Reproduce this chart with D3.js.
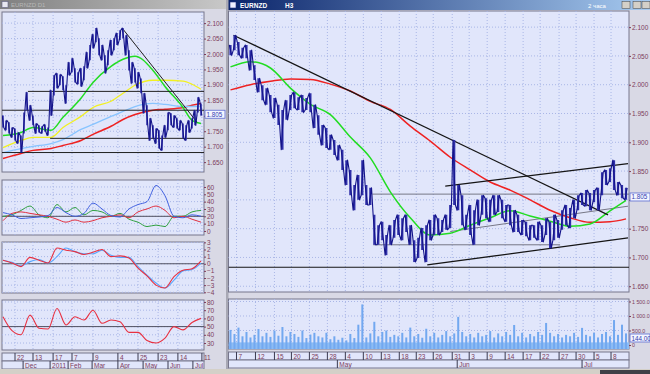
<!DOCTYPE html>
<html>
<head>
<meta charset="utf-8">
<script src="https://cdn.jsdelivr.net/npm/d3@7"></script>
<style>
  body { margin: 0; background: #d4d0c8; }
  svg { display: block; font-family: "Liberation Sans", Arial, sans-serif; }
</style>
</head>
<body>
<svg id="chart" width="650" height="374"></svg>
<script>
// ---- left window (daily), one entry per bar column ----
const lHigh = [1.801,1.785,1.779,1.762,1.759,1.746,1.736,1.811,1.876,1.834,
  1.801,1.775,1.769,1.766,1.772,1.762,1.883,1.931,1.938,1.934,
  1.928,1.899,1.973,1.986,1.954,1.941,1.954,1.960,2.006,2.029,
  2.064,2.084,2.051,2.029,1.996,2.012,2.045,2.051,2.068,2.077,
  2.084,2.061,2.012,1.973,1.954,1.941,1.921,1.873,1.834,1.792,
  1.769,1.759,1.753,1.736,1.769,1.811,1.808,1.801,1.792,1.785,
  1.775,1.769,1.785,1.792,1.818,1.860,1.840];
const lLow = [1.762,1.753,1.743,1.730,1.720,1.710,1.681,1.743,1.818,1.785,
  1.769,1.743,1.746,1.743,1.749,1.736,1.801,1.866,1.889,1.899,
  1.883,1.840,1.931,1.941,1.908,1.902,1.895,1.915,1.954,1.980,
  2.019,2.038,1.996,1.980,1.938,1.964,1.996,2.012,2.029,2.045,
  2.051,1.996,1.947,1.905,1.908,1.889,1.873,1.808,1.769,1.720,
  1.727,1.710,1.694,1.688,1.730,1.753,1.769,1.762,1.759,1.753,
  1.727,1.720,1.746,1.759,1.769,1.811,1.801];

// moving averages, read at these bar columns
const lMaAt = [0,6,10,16,20,26,30,36,40,44,50,54,60,63,66];
const lMaGreen = [1.736,1.746,1.762,1.753,1.795,1.857,1.908,1.960,1.983,1.993,1.947,1.895,1.827,1.785,1.775];
const lMaYellow = [1.697,1.720,1.730,1.730,1.762,1.798,1.827,1.847,1.873,1.899,1.915,1.915,1.912,1.902,1.886];
const lMaBlue = [1.681,1.694,1.701,1.710,1.723,1.756,1.772,1.798,1.814,1.830,1.840,1.837,1.830,1.830,1.830];
const lMaRed = [1.662,1.678,1.688,1.694,1.704,1.720,1.740,1.766,1.788,1.804,1.818,1.821,1.827,1.834,1.840];

// lines drawn on the left chart: [fromBar, fromPrice, toBar, toPrice]
const lLines = [[39.7,2.084,64.7,1.779],[8.3,1.879,67,1.879],[-0.4,1.818,67,1.818],
  [15.7,1.727,67,1.727],[-0.4,1.681,67,1.681]];

// indicators, read every 3rd bar column
const indAt = d3.range(0, 67, 3);
const adxBlue = [25,22,17,18,19,21,32,25,20,24,38,30,21,19,30,36,40,62,48,20,18,22,20];
const adxRed = [14,24,26,24,22,20,16,12,15,12,14,18,20,22,18,26,30,34,28,18,20,16,12];
const adxGreen = [20,22,28,34,22,18,36,26,32,22,28,26,20,24,16,12,6,8,6,20,20,26,28];
const macdRed = [0.5,0.1,-0.4,0.9,0.5,0.1,2.2,1.9,1.7,1.3,1.6,2.0,1.0,1.1,0.8,-0.6,-1.7,-3.0,-3.4,-1.8,-0.9,-0.7,0.4];
const macdBlue = [0.5,0.2,-0.3,0.3,0.6,0.1,1.0,2.2,1.7,1.4,1.4,1.9,1.2,0.9,0.9,-0.4,-1.6,-2.7,-3.4,-2.3,-1.0,-0.8,0.1];
const rsiRed = [62,45,40,64,48,47,72,52,62,58,70,54,58,56,43,43,33,30,36,50,46,55,60];

const lDays = ['22','13','17','7','9','4','25','23','14','11'];
const lDayAt = [4,10,16.7,23,30,38.3,45,51.7,58.3,66.3];
const lMonths = ['Dec','2011','Feb','Mar','Apr','May','Jun','Jul'];
const lMonthAt = [6.7,15.7,21.7,29.7,38.3,46.7,55,63.3];

// ---- right window (intraday) ----
const rHigh = [2.069,2.086,2.074,2.064,2.069,2.060,2.034,2.011,1.999,1.994,
  1.982,1.977,1.965,1.956,1.973,1.982,1.987,1.978,1.982,1.977,
  1.985,1.965,1.947,1.930,1.925,1.913,1.904,1.895,1.887,1.869,
  1.852,1.826,1.843,1.869,1.826,1.821,1.774,1.756,1.762,1.739,
  1.756,1.765,1.774,1.768,1.774,1.756,1.730,1.734,1.751,1.756,
  1.765,1.774,1.768,1.765,1.774,1.791,1.904,1.826,1.808,1.774,
  1.791,1.782,1.800,1.808,1.803,1.800,1.808,1.808,1.800,1.791,
  1.791,1.782,1.774,1.765,1.762,1.756,1.756,1.762,1.756,1.768,
  1.762,1.774,1.765,1.782,1.791,1.786,1.800,1.808,1.812,1.817,
  1.812,1.817,1.821,1.848,1.852,1.855,1.869,1.831,1.826,1.821];
const rLow = [2.051,2.060,2.051,2.046,2.046,2.025,2.008,1.987,1.973,1.965,
  1.952,1.942,1.930,1.887,1.939,1.956,1.959,1.956,1.952,1.956,
  1.952,1.925,1.913,1.895,1.890,1.887,1.878,1.869,1.852,1.826,
  1.808,1.782,1.800,1.808,1.791,1.791,1.722,1.722,1.730,1.704,
  1.722,1.734,1.739,1.730,1.744,1.722,1.692,1.699,1.713,1.692,
  1.730,1.739,1.739,1.744,1.748,1.751,1.791,1.782,1.756,1.748,
  1.739,1.722,1.756,1.774,1.768,1.762,1.774,1.779,1.768,1.762,
  1.756,1.744,1.744,1.739,1.737,1.730,1.734,1.730,1.727,1.739,
  1.716,1.730,1.734,1.748,1.756,1.751,1.768,1.782,1.791,1.789,
  1.782,1.796,1.782,1.808,1.826,1.831,1.817,1.808,1.803,1.800];
const rVolume = [520,380,600,300,450,260,350,550,300,420,
  280,500,320,620,300,450,380,280,500,240,
  360,420,300,260,420,200,300,180,250,160,
  380,240,700,1400,260,400,800,300,450,500,
  280,350,300,420,260,600,300,380,250,560,
  300,420,260,350,480,300,400,970,450,300,
  380,260,420,300,350,480,260,400,300,450,
  350,690,300,420,260,380,300,450,350,760,
  420,300,380,260,350,300,420,280,590,350,
  300,420,260,380,450,300,860,350,700,400];

const rMaAt = [0,5,10,15,20,25,30,35,40,45,50,55,60,65,70,75,80,85,90,95,99];
const rMaGreen = [2.031,2.040,2.029,1.994,1.966,1.948,1.909,1.873,1.814,1.769,1.739,1.742,1.756,1.769,1.781,1.772,1.763,1.754,1.758,1.781,1.799];
const rMaRed = [1.991,2.000,2.006,2.010,2.009,2.001,1.989,1.971,1.957,1.928,1.902,1.874,1.852,1.831,1.817,1.800,1.782,1.769,1.761,1.762,1.767];

const rBlackLines = [[0.75,2.086,94.5,1.774],[53.75,1.824,99.5,1.863],[49.25,1.687,99.5,1.734],[-0.5,1.683,99.75,1.683]];
const rGrayLines = [[55,1.745,99.5,1.789],[35.5,1.810,99.75,1.810],[35.75,1.722,82.5,1.722]];

const rDays = ['7','12','15','20','25','28','4','10','13','18','23','26','31','3','9','14','17','22','27','30','5','8'];
const rDayAt = [1.5,6.25,11,15.25,19.75,24.25,28.75,33.25,37.75,42.25,46.5,50.75,55.5,59.75,64.25,68.75,73.25,77.5,82.25,86.5,91,95.25];
const rMonths = ['May','Jun','Jul'];
const rMonthAt = [26.75,56.75,88];

const priceTicks = [1.65,1.7,1.75,1.8,1.85,1.9,1.95,2.0,2.05,2.1];
const volTicks = [0, 500, 1000, 1500];
const lastPrice = 1.805;
const lastVolume = '144.00';

// ---- drawing ----
const svg = d3.select('#chart');
const defs = svg.append('defs');
const plotBg = '#e1e6fb', frameCol = '#76768c', labelCol = '#7c3c5c', gridCol = '#a9b6e6';
let clipId = 0;

svg.append('rect').attr('width', 650).attr('height', 374).attr('fill', '#d9d9e5');

function grad(id, c0, c1) {
  let g = defs.append('linearGradient').attr('id', id);
  g.append('stop').attr('offset', '0%').attr('stop-color', c0);
  g.append('stop').attr('offset', '100%').attr('stop-color', c1);
}
grad('actTitle', '#0a246a', '#a6caf0');
grad('inTitle', '#808080', '#c8c8c8');

function panel(x, y, w, h) {
  svg.append('rect').attr('x', x).attr('y', y).attr('width', w).attr('height', h)
    .attr('fill', plotBg).attr('stroke', frameCol);
  let id = 'clip' + (clipId++);
  defs.append('clipPath').attr('id', id).append('rect')
    .attr('x', x).attr('y', y).attr('width', w).attr('height', h);
  return svg.append('g').attr('clip-path', `url(#${id})`);
}

function grid(g, xs, ys, x0, x1, y0, y1) {
  g.selectAll(null).data(xs).join('line')
    .attr('x1', d => d).attr('x2', d => d).attr('y1', y0).attr('y2', y1)
    .attr('stroke', gridCol).attr('stroke-dasharray', '1,2');
  g.selectAll(null).data(ys).join('line')
    .attr('x1', x0).attr('x2', x1).attr('y1', d => d).attr('y2', d => d)
    .attr('stroke', gridCol).attr('stroke-dasharray', '1,2');
}

// hide: tick value whose label sits under the value box
function yAxis(scale, x, ticks, fmt, hide, size) {
  let g = svg.append('g').attr('transform', `translate(${x},0)`)
    .call(d3.axisRight(scale).tickValues(ticks).tickSize(2)
      .tickFormat(d => d === hide ? '' : fmt(d)));
  g.select('.domain').remove();
  g.selectAll('line').attr('stroke', labelCol);
  g.selectAll('text').attr('fill', labelCol).attr('font-size', size || 6.5).attr('x', 3)
    .attr('font-family', '"Liberation Sans", Arial, sans-serif');
}

function seriesLine(g, x, y, at, vals, color, w) {
  let line = d3.line().x((d, i) => x(at[i])).y(d => y(d)).curve(d3.curveMonotoneX);
  g.append('path').attr('d', line(vals)).attr('fill', 'none')
    .attr('stroke', color).attr('stroke-width', w || 1.3);
}

// dense bars: a hi/lo zigzag trace plus a vertical bar per column
function priceBars(g, x, y, hi, lo, half, barW) {
  let pts = [];
  hi.forEach((h, i) => {
    let a = i % 2 ? lo[i] : h, b = i % 2 ? h : lo[i];
    pts.push([x(i) - half, y(a)], [x(i) + half, y(b)]);
  });
  g.selectAll(null).data(hi).join('line')
    .attr('x1', (d, i) => x(i)).attr('x2', (d, i) => x(i))
    .attr('y1', d => y(d)).attr('y2', (d, i) => y(lo[i]))
    .attr('stroke', '#3030aa').attr('stroke-width', barW);
  g.append('path').attr('d', d3.line()(pts)).attr('fill', 'none')
    .attr('stroke', '#14148a').attr('stroke-width', 1.1).attr('stroke-linejoin', 'round');
}

function trendLines(g, x, y, lines, color, w) {
  g.selectAll(null).data(lines).join('line')
    .attr('x1', d => x(d[0])).attr('y1', d => y(d[1]))
    .attr('x2', d => x(d[2])).attr('y2', d => y(d[3]))
    .attr('stroke', color).attr('stroke-width', w);
}

function valueBox(x, y, text) {
  svg.append('rect').attr('x', x).attr('y', y - 4).attr('width', 20).attr('height', 8)
    .attr('fill', '#f4f6ff').attr('stroke', '#5a6ad0').attr('stroke-width', 0.8);
  svg.append('text').attr('x', x + 1.5).attr('y', y + 2.5).attr('font-size', 6.3)
    .attr('fill', '#3040b0').text(text);
}

function dateRows(x, x0, x1, yTop, days, dayAt, months, monthAt) {
  svg.append('rect').attr('x', x0).attr('y', yTop).attr('width', x1 - x0).attr('height', 8)
    .attr('fill', plotBg).attr('stroke', frameCol);
  svg.append('rect').attr('x', x0).attr('y', yTop + 8).attr('width', x1 - x0).attr('height', 8)
    .attr('fill', plotBg).attr('stroke', frameCol);
  days.forEach((d, k) => {
    let px = x(dayAt[k]);
    svg.append('line').attr('x1', px).attr('x2', px).attr('y1', yTop).attr('y2', yTop + 8).attr('stroke', '#3a3a50');
    svg.append('text').attr('x', px + 2).attr('y', yTop + 6.5).attr('font-size', 6.5).attr('fill', labelCol).text(d);
  });
  months.forEach((m, k) => {
    let px = x(monthAt[k]);
    svg.append('line').attr('x1', px).attr('x2', px).attr('y1', yTop + 8).attr('y2', yTop + 16).attr('stroke', '#3a3a50');
    svg.append('text').attr('x', px + 2).attr('y', yTop + 14.5).attr('font-size', 6.5).attr('fill', labelCol).text(m);
  });
}

// title bars
svg.append('rect').attr('x', 0).attr('y', 0).attr('width', 226).attr('height', 9).attr('fill', 'url(#inTitle)');
svg.append('rect').attr('x', 2).attr('y', 1.5).attr('width', 6).attr('height', 6).attr('fill', '#e8e8f0').attr('stroke', '#606080').attr('stroke-width', 0.6);
svg.append('text').attr('x', 11).attr('y', 7).attr('font-size', 6).attr('fill', '#b8b8b8').text('EURNZD   D1');
svg.append('rect').attr('x', 228).attr('y', 0).attr('width', 422).attr('height', 10).attr('fill', 'url(#actTitle)');
svg.append('rect').attr('x', 230).attr('y', 2).attr('width', 6).attr('height', 6).attr('fill', '#f0f0ff').attr('stroke', '#203080').attr('stroke-width', 0.6);
svg.append('text').attr('x', 240).attr('y', 7.5).attr('font-size', 6.5).attr('fill', '#ffffff').attr('font-weight', 'bold').text('EURNZD');
svg.append('text').attr('x', 285).attr('y', 7.5).attr('font-size', 6.5).attr('fill', '#ffffff').attr('font-weight', 'bold').text('H3');
svg.append('text').attr('x', 588).attr('y', 7.5).attr('font-size', 6).attr('fill', '#ffffff').text('2 часа');
[622, 633, 642].forEach(bx => {
  svg.append('rect').attr('x', bx).attr('y', 1.5).attr('width', 8).attr('height', 7)
    .attr('fill', '#d4d0c8').attr('stroke', '#404040').attr('stroke-width', 0.5);
});
svg.append('rect').attr('x', 226).attr('y', 0).attr('width', 2.5).attr('height', 374).attr('fill', '#a8a8b4');

// ---- left main ----
const lx = d3.scaleLinear().domain([-1 / 3, 67]).range([2, 204]);
const ly = d3.scaleLinear().domain([1.618, 2.136]).range([172, 12]);
let g = panel(2, 12, 202, 160);
grid(g, lDayAt.map(lx), priceTicks.map(ly), 2, 204, 12, 172);
seriesLine(g, lx, ly, lMaAt, lMaRed, '#ee2222', 1.5);
seriesLine(g, lx, ly, lMaAt, lMaBlue, '#88c4ff', 1.3);
seriesLine(g, lx, ly, lMaAt, lMaYellow, '#f2f022', 1.3);
seriesLine(g, lx, ly, lMaAt, lMaGreen, '#22dd22', 1.5);
trendLines(g, lx, ly, lLines, '#202020', 1);
priceBars(g, lx, ly, lHigh, lLow, 0.8, 1.6);
yAxis(ly, 204, priceTicks, d3.format('.3f'), 1.8);
valueBox(205, ly(lastPrice), lastPrice.toFixed(3));

// ---- left ADX ----
const adxY = d3.scaleLinear().domain([-5.5, 69.5]).range([235, 180]);
g = panel(2, 180, 202, 55);
grid(g, lDayAt.map(lx), [0,10,20,30,40,50,60].map(adxY), 2, 204, 180, 235);
g.append('line').attr('x1', 2).attr('x2', 204).attr('y1', adxY(20)).attr('y2', adxY(20)).attr('stroke', '#505060');
seriesLine(g, lx, adxY, indAt, adxGreen, '#30a040', 1);
seriesLine(g, lx, adxY, indAt, adxRed, '#e03040', 1);
seriesLine(g, lx, adxY, indAt, adxBlue, '#4060e0', 1);
yAxis(adxY, 204, [0,10,20,30,40,50,60], d3.format('d'));

// ---- left MACD ----
const macdY = d3.scaleLinear().domain([-4.1, 3.05]).range([293, 242]);
g = panel(2, 242, 202, 51);
grid(g, lDayAt.map(lx), [-4,-3,-2,-1,0,1,2,3].map(macdY), 2, 204, 242, 293);
g.append('line').attr('x1', 2).attr('x2', 204).attr('y1', macdY(0)).attr('y2', macdY(0)).attr('stroke', '#505060');
seriesLine(g, lx, macdY, indAt, macdBlue, '#5aa8ff', 1.1);
seriesLine(g, lx, macdY, indAt, macdRed, '#e83040', 1.1);
yAxis(macdY, 204, [-4,-3,-2,-1,0,1,2,3], d3.format('d'));

// ---- left RSI ----
const rsiY = d3.scaleLinear().domain([21.5, 82.4]).range([350, 300]);
g = panel(2, 300, 202, 50);
grid(g, lDayAt.map(lx), [30,40,50,60,70,80].map(rsiY), 2, 204, 300, 350);
g.append('line').attr('x1', 2).attr('x2', 204).attr('y1', rsiY(50)).attr('y2', rsiY(50)).attr('stroke', '#505060');
seriesLine(g, lx, rsiY, indAt, rsiRed, '#e83040', 1.1);
yAxis(rsiY, 204, [30,40,50,60,70,80], d3.format('d'));

dateRows(lx, 2, 204, 353, lDays, lDayAt, lMonths, lMonthAt);

// ---- right main ----
const rx = d3.scaleLinear().domain([-0.5, 99.75]).range([228.5, 629]);
const ry = d3.scaleLinear().domain([1.640, 2.128]).range([292, 11]);
g = panel(228.5, 11, 400.5, 281);
grid(g, rDayAt.map(rx), priceTicks.map(ry), 228, 629, 11, 292);
trendLines(g, rx, ry, rGrayLines, '#6a6a78', 0.9);
seriesLine(g, rx, ry, rMaAt, rMaRed, '#ee2222', 1.5);
seriesLine(g, rx, ry, rMaAt, rMaGreen, '#22dd22', 1.5);
trendLines(g, rx, ry, rBlackLines, '#151515', 1.2);
priceBars(g, rx, ry, rHigh, rLow, 1.2, 2.2);
yAxis(ry, 629, priceTicks, d3.format('.3f'), 1.8);
valueBox(630, ry(lastPrice), lastPrice.toFixed(3));

// ---- right volume ----
const volY = d3.scaleLinear().domain([0, 1586]).range([345, 299]);
g = panel(228.5, 299, 400.5, 50);
grid(g, rDayAt.map(rx), volTicks.map(volY), 228, 629, 299, 349);
g.append('rect').attr('x', 228.5).attr('y', volY(90)).attr('width', 400.5).attr('height', 349 - volY(90))
  .attr('fill', '#8cbcf4');
g.selectAll(null).data(rVolume).join('rect')
  .attr('x', (d, i) => rx(i) - 1).attr('width', 2)
  .attr('y', d => volY(d)).attr('height', d => 349 - volY(d))
  .attr('fill', '#72a8f0');
yAxis(volY, 629, volTicks, d => d === 0 ? '0' : d3.format(',.1f')(d).replace(',', ' '), null, 5.3);
valueBox(630, 338, lastVolume);

dateRows(rx, 228.5, 629, 352, rDays, rDayAt, rMonths, rMonthAt);

// bottom strip
svg.append('rect').attr('x', 0).attr('y', 369).attr('width', 650).attr('height', 5).attr('fill', '#d4d0c8');
svg.append('rect').attr('x', 600).attr('y', 370).attr('width', 50).attr('height', 4).attr('fill', '#404048');
</script>
</body>
</html>
